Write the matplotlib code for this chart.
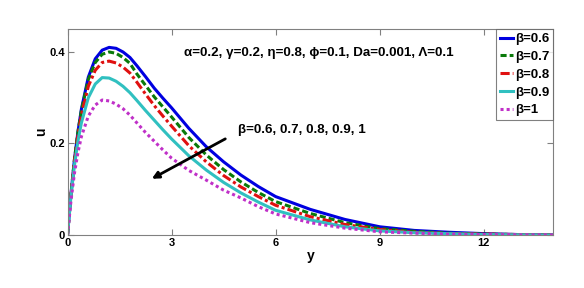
import matplotlib
matplotlib.use("Agg")
import matplotlib.pyplot as plt

plt.rcParams['font.family'] = ['Liberation Sans', 'DejaVu Sans']

y = [0, 0.1, 0.2, 0.3, 0.4, 0.6, 0.8, 1.0, 1.2, 1.4, 1.6, 1.8, 2.0, 2.25, 2.5, 2.75,
     3, 3.5, 4, 4.5, 5, 5.5, 6, 7, 8, 9, 10, 11, 12, 13, 14]

u_b06 = [0, 0.09, 0.165, 0.225, 0.275, 0.345, 0.385, 0.404, 0.41, 0.408, 0.40, 0.388,
         0.37, 0.346, 0.321, 0.299, 0.278, 0.233, 0.193, 0.16, 0.131, 0.106, 0.084,
         0.056, 0.034, 0.018, 0.01, 0.006, 0.003, 0.001, 0]
u_b07 = [0, 0.09, 0.165, 0.225, 0.272, 0.34, 0.377, 0.395, 0.40, 0.397, 0.388, 0.375,
         0.352, 0.327, 0.302, 0.28, 0.258, 0.213, 0.175, 0.143, 0.116, 0.093, 0.073,
         0.047, 0.027, 0.014, 0.008, 0.004, 0.002, 0.001, 0]
u_b08 = [0, 0.088, 0.16, 0.218, 0.262, 0.325, 0.36, 0.377, 0.38, 0.376, 0.367, 0.354,
         0.334, 0.308, 0.283, 0.26, 0.238, 0.195, 0.16, 0.13, 0.105, 0.084, 0.065,
         0.04, 0.023, 0.012, 0.006, 0.003, 0.002, 0.001, 0]
u_b09 = [0, 0.085, 0.152, 0.205, 0.245, 0.30, 0.33, 0.344, 0.343, 0.336, 0.325, 0.311,
         0.294, 0.272, 0.251, 0.23, 0.21, 0.173, 0.142, 0.115, 0.092, 0.072, 0.054,
         0.033, 0.018, 0.009, 0.005, 0.003, 0.001, 0.0005, 0]
u_b10 = [0, 0.075, 0.135, 0.18, 0.215, 0.26, 0.284, 0.295, 0.293, 0.286, 0.276, 0.262,
         0.245, 0.224, 0.205, 0.186, 0.168, 0.141, 0.12, 0.098, 0.081, 0.062, 0.046,
         0.027, 0.015, 0.007, 0.004, 0.002, 0.001, 0.0005, 0]

series = [u_b06, u_b07, u_b08, u_b09, u_b10]
labels = ['β=0.6', 'β=0.7', 'β=0.8', 'β=0.9', 'β=1']
colors = ['#0000e0', '#0a7a0a', '#e01010', '#30c0c0', '#c030c8']
styles = ['-', (0, (2, 1)), (0, (3, 1, 1, 1)), '-', (0, (1, 1))]

fig = plt.figure(figsize=(5.84, 2.88), dpi=100)
ax = fig.add_axes([0.1156, 0.184, 0.8314, 0.715])

for u, lab, c, ls in zip(series, labels, colors, styles):
    ax.plot(y, u, color=c, linestyle=ls, linewidth=2.2, label=lab)

ax.set_xlim(0, 14)
ax.set_ylim(0, 0.45)
ax.set_xticks([0, 3, 6, 9, 12])
ax.set_yticks([0, 0.2, 0.4])
ax.set_yticklabels(['0', '0.2', '0.4'])
ax.tick_params(direction='in', top=True, right=True, labelsize=8, pad=2,
               length=4, color='#808080')
for t in ax.get_xticklabels() + ax.get_yticklabels():
    t.set_fontweight('bold')
for s in ax.spines.values():
    s.set_color('#808080')

ax.set_xlabel('y', fontsize=10, fontweight='bold', labelpad=1)
ax.set_ylabel('u', fontsize=10, fontweight='bold', labelpad=1)

ax.text(3.37, 0.397, 'α=0.2, γ=0.2, η=0.8, ϕ=0.1, Da=0.001, Λ=0.1',
        fontsize=9.6, fontweight='bold', va='center')
ax.text(4.92, 0.229, 'β=0.6, 0.7, 0.8, 0.9, 1', fontsize=9.6,
        fontweight='bold', va='center')
ax.annotate('', xy=(2.36, 0.12), xytext=(4.62, 0.213),
            arrowprops=dict(arrowstyle='-|>', color='black', lw=2,
                            mutation_scale=10))

leg = ax.legend(loc='upper right', borderaxespad=0, fancybox=False,
                handlelength=1.0, handletextpad=0.15, labelspacing=0.42,
                borderpad=0.3, prop={'weight': 'bold', 'size': 9.5})
leg.get_frame().set_edgecolor('#606060')
leg.get_frame().set_linewidth(0.8)

fig.savefig('out.png', dpi=100)
